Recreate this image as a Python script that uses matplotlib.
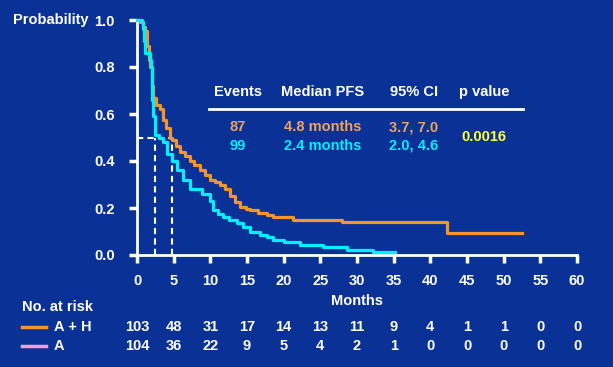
import matplotlib.pyplot as plt

# Kaplan-Meier, progression-free survival
t_ah = [0, 0.4, 0.8, 1.1, 1.4, 1.6, 1.8, 2.0, 2.2, 2.6, 3.1, 3.5, 3.9, 4.5, 4.8, 5.3,
        5.9, 6.5, 7.2, 7.8, 8.6, 9.3, 10.0, 10.6, 11.3, 12.0, 12.7, 13.4, 14.0, 14.8,
        15.4, 16.5, 17.7, 18.5, 21.3, 28.0, 42.3, 52.5]
s_ah = [1.0, 0.99, 0.97, 0.955, 0.89, 0.83, 0.80, 0.72, 0.67, 0.64, 0.62, 0.575, 0.54,
        0.50, 0.49, 0.465, 0.44, 0.42, 0.40, 0.385, 0.36, 0.34, 0.32, 0.31, 0.30, 0.28,
        0.25, 0.225, 0.205, 0.195, 0.19, 0.18, 0.17, 0.16, 0.15, 0.14, 0.093, 0.093]

t_a = [0, 0.7, 0.85, 1.0, 1.1, 1.8, 1.9, 2.0, 2.1, 2.2, 2.4, 3.0, 3.6, 4.1, 4.8, 5.5,
       6.3, 7.2, 8.9, 10.0, 10.4, 11.0, 11.7, 12.6, 13.6, 14.5, 15.4, 16.8, 17.7, 18.5,
       20.0, 22.2, 25.4, 28.6, 32.2, 35.2]
s_a = [1.0, 0.99, 0.96, 0.91, 0.86, 0.83, 0.80, 0.76, 0.66, 0.59, 0.51, 0.50, 0.48,
       0.43, 0.40, 0.36, 0.32, 0.28, 0.26, 0.23, 0.19, 0.175, 0.16, 0.15, 0.136, 0.12,
       0.098, 0.085, 0.077, 0.064, 0.055, 0.043, 0.034, 0.021, 0.013, 0.013]

medians = [4.8, 2.4]

risk_months = list(range(0, 61, 5))
risk_ah = [103, 48, 31, 17, 14, 13, 11, 9, 4, 1, 1, 0, 0]
risk_a = [104, 36, 22, 9, 5, 4, 2, 1, 0, 0, 0, 0, 0]

table_head = ["Events", "Median PFS", "95% CI", "p value"]
row_ah = ["87", "4.8 months", "3.7, 7.0"]
row_a = ["99", "2.4 months", "2.0, 4.6"]
p_value = "0.0016"

bg = "#0a3296"
orange = "#f4952a"
orange_txt = "#f0a060"
cyan = "#00f0ff"
pink = "#ff99d0"
yellow = "#ffff33"

plt.rcParams['font.family'] = ['Liberation Sans Narrow', 'Liberation Sans', 'DejaVu Sans']
plt.rcParams['font.weight'] = 'bold'

fig = plt.figure(figsize=(6.13, 3.67), dpi=100, facecolor=bg)
ax = fig.add_axes([137 / 613, 1 - 255 / 367, 440 / 613, 235 / 367])
ax.set_facecolor(bg)

ax.step(t_ah, s_ah, where='post', color=orange, lw=2.3, clip_on=False, zorder=3)
ax.step(t_a, s_a, where='post', color=cyan, lw=2.3, clip_on=False, zorder=4)

# median lines
ax.plot([0, medians[0]], [0.5, 0.5], color='white', lw=1.5, ls=(0, (3, 2)), zorder=2)
for m in medians:
    ax.plot([m, m], [0, 0.5], color='white', lw=1.5, ls=(0, (3, 2)), zorder=2)

ax.set_xlim(0, 60)
ax.set_ylim(0, 1.0)
ax.set_xticks(risk_months)
ax.set_yticks([0, 0.2, 0.4, 0.6, 0.8, 1.0])
ax.set_yticklabels(["0.0", "0.2", "0.4", "0.6", "0.8", "1.0"])
for s in ['top', 'right']:
    ax.spines[s].set_visible(False)
for s in ['left', 'bottom']:
    ax.spines[s].set_color('white')
    ax.spines[s].set_linewidth(2)
ax.tick_params(colors='white', width=2.5, length=6, labelsize=10.5, pad=8)
ax.tick_params(axis='y', pad=10)
ax.set_xlabel("Months", color='white', fontsize=10.5, fontweight='bold', labelpad=4)

fig.text(13 / 613, 1 - 20 / 367, "Probability", color='white', fontsize=10.5,
         fontweight='bold', va='center', ha='left')

# summary table
tx = [238, 323, 414, 484]
for x, h in zip(tx, table_head):
    fig.text(x / 613, 1 - 92 / 367, h, color='white', fontsize=10.5,
             fontweight='bold', ha='center', va='center')
fig.add_artist(plt.Line2D([209 / 613, 523 / 613], [1 - 109 / 367, 1 - 109 / 367],
                          color='white', lw=2))
for x, v in zip(tx, row_ah):
    fig.text(x / 613, 1 - 127 / 367, v, color=orange_txt, fontsize=10.5,
             fontweight='bold', ha='center', va='center')
for x, v in zip(tx, row_a):
    fig.text(x / 613, 1 - 146 / 367, v, color=cyan, fontsize=10.5,
             fontweight='bold', ha='center', va='center')
fig.text(tx[3] / 613, 1 - 137 / 367, p_value, color=yellow, fontsize=10.5,
         fontweight='bold', ha='center', va='center')

# numbers at risk
fig.text(22 / 613, 1 - 307 / 367, "No. at risk", color='white', fontsize=10.5,
         fontweight='bold', ha='left', va='center')
for y, lab, col, vals in [(327, "A + H", orange, risk_ah), (346, "A", pink, risk_a)]:
    fy = 1 - y / 367
    fig.add_artist(plt.Line2D([22 / 613, 46 / 613], [fy, fy], color=col, lw=2.5))
    fig.text(54 / 613, fy, lab, color='white', fontsize=10.5, fontweight='bold',
             ha='left', va='center')
    for m, v in zip(risk_months, vals):
        ax.text(m, -(y - 255) / 235, str(v), transform=ax.get_xaxis_transform(),
                color='white', fontsize=10.5, fontweight='bold',
                ha='center', va='center')

fig.savefig("out.png", dpi=100, facecolor=bg)
